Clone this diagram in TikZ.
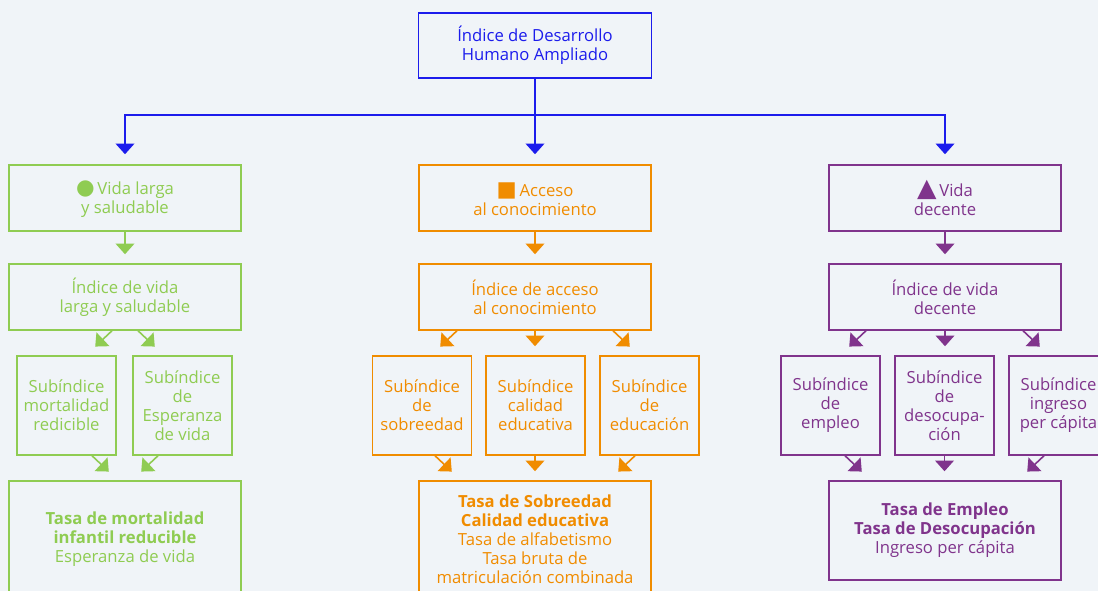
\documentclass[tikz,border=0pt]{standalone}
\usepackage{fontspec}
\setmainfont{Open Sans}
\newfontfamily\symfont{DejaVu Sans}
\usetikzlibrary{arrows.meta,calc}
\definecolor{bgc}{RGB}{240,244,248}
\definecolor{bluec}{RGB}{28,28,236}
\definecolor{greenc}{RGB}{143,204,82}
\definecolor{orangec}{RGB}{240,140,0}
\definecolor{purplec}{RGB}{128,52,140}
\tikzset{
  box/.style={draw, line width=1.1pt, align=center, inner sep=0.75pt,
    font=\fontsize{12.5}{14.25}\selectfont},
  wide/.style={box, minimum width=174pt, minimum height=49.5pt},
  small/.style={box, minimum width=74.25pt, minimum height=74.25pt},
  conn/.style={line width=1.2pt, -{Triangle[width=14pt,length=8pt]}, shorten >=6.75pt},
  diag/.style={conn, shorten >=9.5pt},
}
\newcommand{\symmark}[2]{\vphantom{Í}\smash{\symfont\fontsize{#1}{14}\selectfont #2}}
\begin{document}
\begin{tikzpicture}[x=0.75pt,y=0.75pt,yscale=-1,xscale=1]
    \path[use as bounding box, fill=bgc] (0,0) rectangle (1098,591);
    \clip (0,0) rectangle (1098,591);
    % top box
    \node (top) [wide, draw=bluec, text=bluec, minimum width=174.75pt, minimum height=48.75pt] at (535,45.5) {Índice de Desarrollo\\Humano Ampliado};
    \coordinate (split) at (535,115);
    % green column
    \node (g1) [wide, draw=greenc, text=greenc] at (125,198) {\symmark{16}{●}\,Vida larga\\y saludable};
    \node (g2) [wide, draw=greenc, text=greenc] at (125,297) {Índice de vida\\larga y saludable};
    \node (g3a) [small, draw=greenc, text=greenc] at (66.5,405.5) {Subíndice\\mortalidad\\redicible};
    \node (g3b) [small, draw=greenc, text=greenc] at (182.5,405.5) {Subíndice\\de\\Esperanza\\de vida};
    \node (g4) [wide, draw=greenc, text=greenc, minimum height=87pt] at (125,539) {\textbf{Tasa de mortalidad}\\\textbf{infantil reducible}\\Esperanza de vida};
    % orange column
    \node (o1) [wide, draw=orangec, text=orangec] at (535,198) {\symmark{16}{■}\,Acceso\\al conocimiento};
    \node (o2) [wide, draw=orangec, text=orangec] at (535,297) {Índice de acceso\\al conocimiento};
    \node (o3a) [small, draw=orangec, text=orangec] at (422,405.5) {Subíndice\\de\\sobreedad};
    \node (o3b) [small, draw=orangec, text=orangec] at (535.5,405.5) {Subíndice\\calidad\\educativa};
    \node (o3c) [small, draw=orangec, text=orangec] at (649.5,405.5) {Subíndice\\de\\educación};
    \node (o4) [wide, draw=orangec, text=orangec, minimum height=87pt] at (535,539) {\textbf{Tasa de Sobreedad}\\\textbf{Calidad educativa}\\Tasa de alfabetismo\\Tasa bruta de\\matriculación combinada};
    % purple column
    \node (p1) [wide, draw=purplec, text=purplec] at (945,198) {\symmark{19}{▲}\,Vida\\decente};
    \node (p2) [wide, draw=purplec, text=purplec] at (945,297) {Índice de vida\\decente};
    \node (p3a) [small, draw=purplec, text=purplec] at (830.5,405.5) {Subíndice\\de\\empleo};
    \node (p3b) [small, draw=purplec, text=purplec] at (944.5,405.5) {Subíndice\\de\\desocupa-\\ción};
    \node (p3c) [small, draw=purplec, text=purplec] at (1058.5,405.5) {Subíndice\\ingreso\\per cápita};
    \node (p4) [wide, draw=purplec, text=purplec, minimum height=74.25pt] at (945,530.5) {\textbf{Tasa de Empleo}\\\textbf{Tasa de Desocupación}\\Ingreso per cápita};
    % blue connectors
    \draw [conn, bluec, shorten >=7.5pt] (top.south) -- (o1.north);
    \draw [conn, bluec, shorten >=7.5pt] (split) -| (g1.north);
    \draw [conn, bluec, shorten >=7.5pt] (split) -| (p1.north);
    % green connectors
    \draw [conn, greenc] (g1.south) -- (g2.north);
    \draw [diag, greenc] ($(g2.south)+(-13,0)$) -- ($(g3a.north)+(19.5,0)$);
    \draw [diag, greenc] ($(g2.south)+(13,0)$) -- ($(g3b.north)+(-18.5,0)$);
    \draw [diag, greenc] ($(g3a.south)+(25.5,0)$) -- ($(g4.north)+(-7,0)$);
    \draw [diag, greenc] ($(g3b.south)+(-24.5,0)$) -- ($(g4.north)+(7,0)$);
    % orange connectors
    \draw [conn, orangec] (o1.south) -- (o2.north);
    \draw [diag, orangec] ($(o2.south)+(-78,0)$) -- ($(o3a.north)+(9,0)$);
    \draw [conn, orangec] (o2.south) -- (o2.south |- o3b.north);
    \draw [diag, orangec] ($(o2.south)+(78,0)$) -- ($(o3c.north)+(-10.5,0)$);
    \draw [diag, orangec] ($(o3a.south)+(13,0)$) -- ($(o4.north)+(-74,0)$);
    \draw [conn, orangec] (o4.north |- o3b.south) -- (o4.north);
    \draw [diag, orangec] ($(o3c.south)+(-14.5,0)$) -- ($(o4.north)+(74,0)$);
    % purple connectors
    \draw [conn, purplec] (p1.south) -- (p2.north);
    \draw [diag, purplec] ($(p2.south)+(-79,0)$) -- ($(p3a.north)+(9.5,0)$);
    \draw [conn, purplec] (p2.south) -- (p2.south |- p3b.north);
    \draw [diag, purplec] ($(p2.south)+(78,0)$) -- ($(p3c.north)+(-9.5,0)$);
    \draw [diag, purplec] ($(p3a.south)+(14.5,0)$) -- ($(p4.north)+(-74,0)$);
    \draw [conn, purplec] (p3b.south) -- (p3b.south |- p4.north);
    \draw [diag, purplec] ($(p3c.south)+(-14.5,0)$) -- ($(p4.north)+(73,0)$);
\end{tikzpicture}
\end{document}
